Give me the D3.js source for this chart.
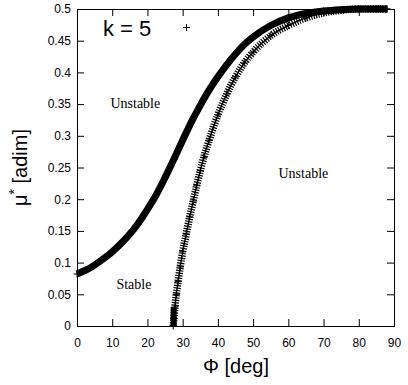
<!DOCTYPE html>
<html>
<head>
<meta charset="utf-8">
<script src="https://cdn.jsdelivr.net/npm/d3@7"></script>
<style>
  html, body { margin: 0; padding: 0; background: #fff; }
  svg { display: block; }
</style>
</head>
<body>
<div id="chart"></div>
<script>
// ---- data ----
const phi1 = [0, 2.5, 5, 7.5, 10, 12.5, 15, 17.5, 20, 22.5, 25, 27.5, 30, 32.5, 35, 37.5, 40, 42.5, 45, 47.5, 50, 55, 60, 65, 70, 75, 80, 85, 88];
const mu1  = [0.082, 0.088, 0.096, 0.106, 0.117, 0.130, 0.145, 0.163, 0.184, 0.207, 0.234, 0.263, 0.293, 0.322, 0.348, 0.372, 0.393, 0.412, 0.429, 0.444, 0.456, 0.474, 0.486, 0.493, 0.497, 0.499, 0.500, 0.500, 0.500];

const phi2 = [27.3, 27.5, 27.8, 28.2, 28.7, 29.3, 30, 31, 32, 33, 34, 35, 36, 37.5, 40, 42.5, 45, 47.5, 50, 55, 60, 65, 70, 75, 80, 85, 88];
const mu2  = [0.000, 0.012, 0.030, 0.050, 0.070, 0.093, 0.117, 0.145, 0.172, 0.197, 0.222, 0.245, 0.266, 0.293, 0.333, 0.366, 0.393, 0.415, 0.432, 0.458, 0.474, 0.486, 0.494, 0.498, 0.500, 0.500, 0.500];

const xTicks = [0, 10, 20, 30, 40, 50, 60, 70, 80, 90];
const yTicks = [0, 0.05, 0.1, 0.15, 0.2, 0.25, 0.3, 0.35, 0.4, 0.45, 0.5];
const yTickLabels = ["0", "0.05", "0.1", "0.15", "0.2", "0.25", "0.3", "0.35", "0.4", "0.45", "0.5"];

const regionLabels = ["Unstable", "Unstable", "Stable"];
const regionPhi = [9.5, 57.2, 11.2];
const regionMu = [0.344, 0.233, 0.058];

// ---- layout ----
const W = 408, H = 385;
const svg = d3.select("#chart").append("svg").attr("width", W).attr("height", H);

const x = d3.scaleLinear().domain([0, 90]).range([77, 394]);
const y = d3.scaleLinear().domain([0, 0.5]).range([326, 9]);

const tickFont = "'Liberation Sans', Arial, sans-serif";

// axes
const gx = svg.append("g").attr("transform", `translate(0,${y(0)})`)
  .call(d3.axisBottom(x).tickValues(xTicks).tickSizeInner(-7).tickSizeOuter(0).tickPadding(12).tickFormat(d3.format("d")));
const gy = svg.append("g").attr("transform", `translate(${x(0)},0)`)
  .call(d3.axisLeft(y).tickValues(yTicks).tickSizeInner(-7).tickSizeOuter(0).tickPadding(6).tickFormat((d, i) => yTickLabels[i]));
const gt = svg.append("g").attr("transform", `translate(0,${y(0.5)})`)
  .call(d3.axisTop(x).tickValues(xTicks).tickSizeInner(-7).tickSizeOuter(0).tickFormat(""));
const gr = svg.append("g").attr("transform", `translate(${x(90)},0)`)
  .call(d3.axisRight(y).tickValues(yTicks).tickSizeInner(-7).tickSizeOuter(0).tickFormat(""));

[gx, gy, gt, gr].forEach(g => {
  g.selectAll("text").attr("font-family", tickFont).attr("font-size", 12).attr("fill", "#000");
  g.selectAll("line").attr("stroke", "#000");
  g.select(".domain").attr("stroke", "#000");
});

// curves
const line = d3.line().x(d => x(d[0])).y(d => y(d[1])).curve(d3.curveMonotoneX);
const data1 = phi1.map((p, i) => [p, mu1[i]]);
const data2 = phi2.map((p, i) => [p, mu2[i]]);

const plot = svg.append("g");

// curve 1: dense plus markers -> solid band
plot.append("path").datum(data1).attr("d", line)
  .attr("fill", "none").attr("stroke", "#000").attr("stroke-width", 7).attr("stroke-linecap", "butt");

// curve 2: plus markers spaced apart -> hatched band
plot.append("path").datum(data2).attr("d", line)
  .attr("fill", "none").attr("stroke", "#000").attr("stroke-width", 7.5)
  .attr("stroke-dasharray", "1.2 1.3");
plot.append("path").datum(data2).attr("d", line)
  .attr("fill", "none").attr("stroke", "#000").attr("stroke-width", 1.5);

// plus markers at each data point
const plusPath = (cx, cy, s) => `M${cx - s},${cy}H${cx + s}M${cx},${cy - s}V${cy + s}`;
plot.selectAll("path.p1").data(data1).enter().append("path").attr("class", "p1")
  .attr("d", d => plusPath(x(d[0]), y(d[1]), 3.5)).attr("stroke", "#000").attr("stroke-width", 1);
plot.selectAll("path.p2").data(data2).enter().append("path").attr("class", "p2")
  .attr("d", d => plusPath(x(d[0]), y(d[1]), 3.5)).attr("stroke", "#000").attr("stroke-width", 1);

// dense blob at the bottom of curve 2
plot.append("rect")
  .attr("x", x(phi2[0]) - 2.5).attr("y", y(mu2[2])).attr("width", 6).attr("height", y(0) - y(mu2[2]))
  .attr("fill", "#000");

// frame
svg.append("rect").attr("x", x(0) + 0.5).attr("y", y(0.5) + 0.5)
  .attr("width", x(90) - x(0)).attr("height", y(0) - y(0.5))
  .attr("fill", "none").attr("stroke", "#000").attr("stroke-width", 1);

// region labels
svg.selectAll("text.region").data(regionLabels).enter().append("text").attr("class", "region")
  .attr("x", (d, i) => x(regionPhi[i])).attr("y", (d, i) => y(regionMu[i]))
  .attr("font-family", "'Liberation Serif', 'Times New Roman', serif").attr("font-size", 14)
  .attr("fill", "#000").text(d => d);

// k = 5 label and legend plus
svg.append("text").attr("x", 103).attr("y", 35.5)
  .attr("font-family", tickFont).attr("font-size", 22).attr("fill", "#000").text("k = 5");
svg.append("path").attr("d", plusPath(186.5, 27.5, 3.5)).attr("stroke", "#000").attr("stroke-width", 1);

// axis titles
svg.append("text").attr("x", (x(0) + x(90)) / 2 + 0.5).attr("y", 373)
  .attr("text-anchor", "middle").attr("font-family", tickFont).attr("font-size", 20)
  .attr("fill", "#000").text("\u03A6 [deg]");

const yl = svg.append("text")
  .attr("transform", `translate(27,${(y(0) + y(0.5)) / 2}) rotate(-90)`)
  .attr("text-anchor", "middle").attr("font-family", tickFont).attr("font-size", 20).attr("fill", "#000");
yl.append("tspan").text("\u03BC");
yl.append("tspan").attr("font-size", 14).attr("dy", -8).text("*");
yl.append("tspan").attr("dy", 8).text(" [adim]");
</script>
</body>
</html>
